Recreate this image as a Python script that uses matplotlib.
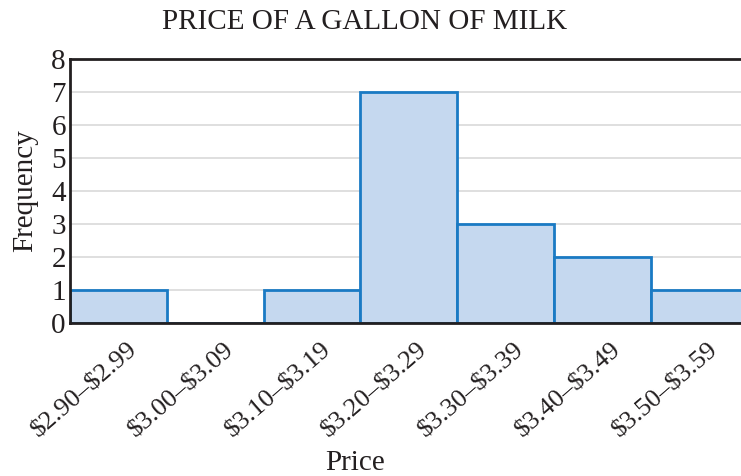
import numpy as np
import matplotlib
matplotlib.use("Agg")
import matplotlib.pyplot as plt
import matplotlib.transforms as mtransforms

# price bins and counts
bins = ["$2.90\u2013$2.99", "$3.00\u2013$3.09", "$3.10\u2013$3.19", "$3.20\u2013$3.29",
        "$3.30\u2013$3.39", "$3.40\u2013$3.49", "$3.50\u2013$3.59"]
counts = [1, 0, 1, 7, 3, 2, 1]
yticks = [0, 1, 2, 3, 4, 5, 6, 7, 8]

plt.rcParams['font.family'] = ['Liberation Serif', 'DejaVu Serif']
plt.rcParams['text.parse_math'] = False
FS = 21

fig = plt.figure(figsize=(7.41, 4.76), dpi=100)
ax = fig.add_axes([70/741, 153/476, 7*96.8/741, 264/476])

x = np.arange(len(bins))
ax.bar(x, counts, width=1.0, align='edge', color='#c5d8ef',
       edgecolor='#1a7ac4', linewidth=2, zorder=3)

ax.set_xlim(0, len(bins))
ax.set_ylim(0, 8)
ax.set_yticks(yticks)
ax.yaxis.grid(True, color='#d9d9d9', linewidth=1.2, zorder=0)
ax.set_axisbelow(True)

for s in ['left', 'top', 'bottom', 'right']:
    ax.spines[s].set_color('#231f20')
    ax.spines[s].set_linewidth(2)
    ax.spines[s].set_zorder(4)

ax.tick_params(axis='y', length=0, labelsize=FS, colors='#231f20', pad=3)
ax.tick_params(axis='x', length=0, labelsize=19, colors='#231f20')
ax.set_xticks(x + 0.5)
offset = mtransforms.ScaledTranslation(16/100, -19/100, fig.dpi_scale_trans)
labels = ax.set_xticklabels(bins, rotation=41, ha='right', va='center',
                            rotation_mode='anchor')
for lab in labels:
    lab.set_transform(lab.get_transform() + offset)

fig.text(365/741, 1 - 22/476, "PRICE OF A GALLON OF MILK", ha='center', va='center',
         fontsize=FS, color='#231f20')
fig.text(25/741, 1 - 191/476, "Frequency", ha='center', va='center', rotation=90,
         fontsize=FS, color='#231f20')
fig.text(355/741, 1 - 463/476, "Price", ha='center', va='center',
         fontsize=FS, color='#231f20')

fig.savefig("out.png", dpi=100)
